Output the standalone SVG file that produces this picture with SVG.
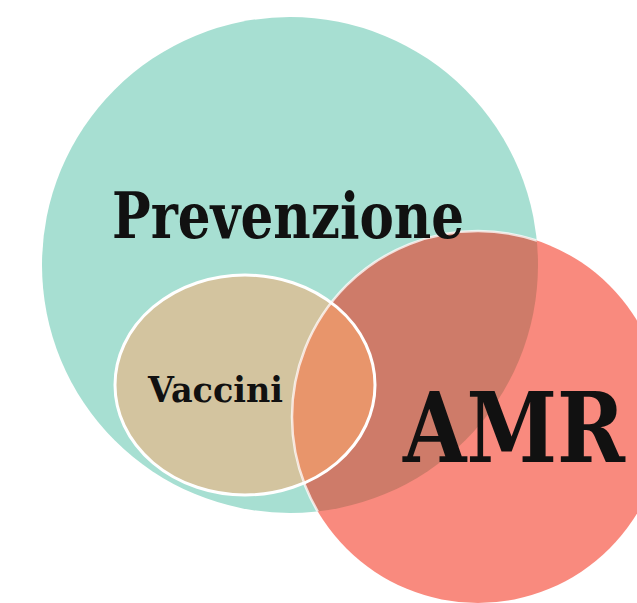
<svg xmlns="http://www.w3.org/2000/svg" width="637" height="603" viewBox="0 0 637 603">
<style>
.lbl{font-family:"DejaVu Serif","Liberation Serif",serif;font-weight:bold;fill:#111;}
</style>
<defs>
<clipPath id="clipRed"><circle cx="478" cy="417" r="186"/></clipPath>
<clipPath id="clipTeal"><circle cx="290" cy="265" r="248"/></clipPath>
</defs>
<rect width="637" height="603" fill="#ffffff"/>
<g id="prevenzione">
<circle cx="290" cy="265" r="248" fill="#A7DFD2"/>
</g>
<g id="vaccini">
<ellipse cx="245" cy="385" rx="130" ry="110" fill="#D3C49F"/>
</g>
<g id="amr">
<circle cx="478" cy="417" r="186" fill="#F98A7E"/>
<circle cx="290" cy="265" r="248" fill="#CE7B69" clip-path="url(#clipRed)"/>
<ellipse cx="245" cy="385" rx="130" ry="110" fill="#E8956B" clip-path="url(#clipRed)"/>
<g clip-path="url(#clipTeal)"><circle cx="478" cy="417" r="186" fill="none" stroke="#ffffff" stroke-opacity="0.75" stroke-width="2.5"/></g>
</g>
<g id="vaccini-outline">
<ellipse cx="245" cy="385" rx="130" ry="110" fill="none" stroke="#ffffff" stroke-width="3"/>
</g>
<g id="connectors"></g>
<text class="lbl" x="112" y="238" font-size="64" textLength="352" lengthAdjust="spacingAndGlyphs">Prevenzione</text>
<text class="lbl" x="148" y="402" font-size="36" textLength="135" lengthAdjust="spacingAndGlyphs">Vaccini</text>
<text class="lbl" x="403" y="462" font-size="98" textLength="222" lengthAdjust="spacingAndGlyphs">AMR</text>
</svg>
